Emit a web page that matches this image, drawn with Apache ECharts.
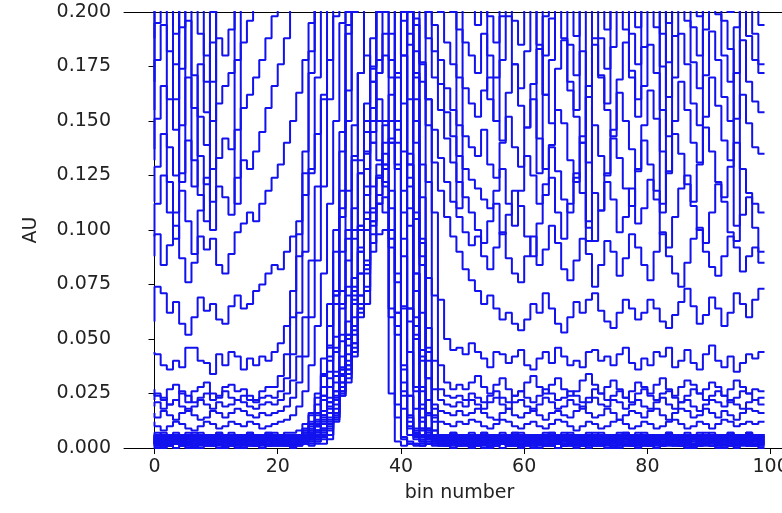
<!DOCTYPE html>
<html>
<head>
<meta charset="utf-8">
<script src="https://cdn.jsdelivr.net/npm/echarts@6/dist/echarts.min.js"></script>
<style>
html,body{margin:0;padding:0;background:#fff;}
#chart{width:782px;height:513px;}
</style>
</head>
<body>
<div id="chart"></div>
<script>
// Bin numbers (x categories)
const bins = [...Array(100).keys()];
// Tick labels
const xTickValues = [0, 20, 40, 60, 80, 100];
const yTickLabels = ['0.000','0.025','0.050','0.075','0.100','0.125','0.150','0.175','0.200'];
// Series values, in units of 0.001 AU
const band1 = [1,2,1,1,2,1,0,1,2,1,1,2,1,1,0,1,2,1,1,2,1,1,2,1, 1,2,1,2,2,4,12,24,30,42,60,66,90,98,100,25,3,1,2,1,1,2,1,1, 1,2,1,1,0,1,2,1,1,2,1,1,1,2,1,0,1,1,2,1,1,2,1,1,1,2,1,0,1,2,1,1,2,1,1,1,2,1,1,0,1,2,1,1,2,1,1,1,2,1,1,1];
const band2 = [2,3,2,2,3,2,2,1,2,3,2,2,3,2,3,2,2,1,2,3,2,2,3,2, 2,3,3,4,6,9,16,28,38,52,70,82,104,112,115,60,14,4,3,2,2,3,2,2, 2,3,2,2,3,2,2,3,1,2,3,2,2,2,3,2,3,2,2,1,2,3,2,2,3,2,2,3,2,2,1,2,3,2,3,2,2,2,3,2,2,1,2,3,2,2,3,2,2,3,2,2];
const band3 = [3,2,3,3,2,3,4,3,2,3,3,2,3,4,3,2,3,3,2,3,4,3,3,2, 3,4,6,8,12,18,26,37,52,70,92,105,120,125,122,96,52,18,6,4,3,2,3,2, 3,2,3,3,4,3,2,3,3,2,3,4,3,2,3,3,2,3,4,3,3,2,3,2,3,4,3,3,2,3,3,2,3,4,3,2,3,3,2,3,4,3,2,3,3,2,3,4,3,3,2,3];
const band4 = [3,4,3,3,4,3,2,3,4,3,3,4,3,3,2,3,4,4,3,3,4,3,3,4, 3,3,4,5,7,10,15,28,36,48,66,84,108,130,135,110,62,24,9,5,3,4,3,3, 3,3,4,3,2,3,4,3,3,4,3,3,4,3,2,3,4,3,3,4,3,3,4,3,3,2,4,3,3,4,3,3,4,3,3,2,3,4,3,3,4,3,3,4,2,3,3,4,3,3,4,3];
const band5 = [4,3,4,4,3,4,5,4,3,4,4,3,4,5,4,3,4,4,3,4,5,4,3,4, 4,4,5,6,8,11,16,26,36,48,64,80,102,124,140,140,128,96,58,28,12,6,4,3, 4,3,4,4,5,4,3,4,4,3,4,5,4,4,3,4,4,5,3,4,4,3,4,5,4,4,3,4,4,5,4,3,4,4,3,4,5,4,4,3,4,4,5,4,3,4,4,3,4,5,4,4];
const band6 = [4,5,4,4,5,4,3,4,5,4,4,5,4,4,3,4,5,4,4,5,4,4,5,4, 5,7,10,15,22,32,46,64,86,110,132,145,140,132,120,92,56,26,10,6,4,5,4,4, 4,5,4,4,3,4,5,4,4,5,4,4,5,4,3,4,4,5,4,4,5,4,4,3,4,5,4,4,5,4,4,5,4,3,4,4,5,4,4,5,4,4,3,5,4,4,5,4,4,5,4,4];
const band7 = [5,4,5,5,4,5,6,5,4,5,5,4,5,6,5,4,5,5,4,5,6,5,5,4, 5,6,8,11,15,21,30,42,58,78,102,128,150,160,150,118,76,38,15,7,5,4,5,4, 5,4,5,5,6,5,4,5,5,4,5,6,5,5,4,5,5,6,4,5,5,4,5,6,5,5,4,5,5,6,5,4,5,5,4,5,6,5,5,4,5,5,6,5,4,5,5,4,5,6,5,5];
const band8 = [5,6,5,5,6,5,4,5,6,5,5,6,5,5,4,5,6,5,5,6,5,5,6,5, 5,5,6,7,9,12,18,30,40,54,70,86,104,124,148,162,170,158,124,80,40,16,8,5, 5,6,5,5,4,5,6,5,5,6,5,5,6,5,4,5,5,6,5,5,6,5,5,4,5,6,5,5,6,5,5,6,5,4,5,5,6,5,5,6,5,5,4,6,5,5,6,5,5,6,5,5];
const band9 = [1,0,1,1,0,1,2,1,0,1,1,0,1,2,1,0,1,1,0,1,2,1,1,0, 2,2,3,5,8,13,20,30,43,60,80,100,110,112,108,64,20,5,2,2,1,2,2,1, 1,0,1,1,2,1,0,1,1,0,1,2,1,1,0,1,1,2,0,1,1,0,1,2,1,1,0,1,1,2,1,0,1,1,0,1,2,1,1,0,1,1,2,1,0,1,1,0,1,2,1,1];
const band10 = [6,5,6,6,5,6,7,6,5,6,6,5,6,7,6,5,6,6,5,6,7,6,6,5, 6,7,8,10,14,19,26,36,50,68,90,116,145,172,190,178,140,88,44,18,9,6,5,6, 6,5,6,6,7,6,5,6,6,5,6,7,6,6,5,6,6,7,5,6,6,5,6,7,6,6,5,6,6,7,6,5,6,6,5,6,7,6,6,5,6,6,7,6,5,6,6,5,6,7,6,6];
const band11 = [6,7,6,6,7,6,5,6,7,6,6,7,6,6,5,6,7,6,6,7,6,6,7,7, 8,11,16,23,33,47,66,90,118,148,172,180,168,150,130,100,62,30,12,7,6,7,6,6, 6,7,6,6,5,6,7,6,6,7,6,6,7,6,5,6,6,7,6,6,7,6,6,5,6,7,6,6,7,6,6,7,6,5,6,6,7,6,6,7,6,6,5,7,6,6,7,6,6,7,6,6];
const band12 = [3,2,3,3,2,3,3,4,3,2,3,3,4,3,2,3,3,2,3,4,3,3,2,3, 3,3,4,3,4,6,14,26,34,46,64,74,98,116,128,142,150,136,102,60,26,9,5,4, 3,3,2,3,4,3,3,2,3,3,4,3,2,3,3,3,4,3,2,3,3,4,3,3,2,3,3,4,3,2,3,3,3,4,3,2,3,3,4,3,2,3,3,4,3,3,2,3,3,4,3,3];
const band13 = [2,1,2,2,3,2,1,2,2,3,2,2,1,2,3,2,2,1,2,2,3,2,1,2, 2,3,4,6,9,14,22,34,50,72,100,135,175,210,220,190,130,65,24,8,3,2,3,2, 2,2,3,2,1,2,2,3,2,2,1,2,3,2,2,2,1,2,3,2,2,1,2,2,3,2,2,1,2,3,2,2,2,1,2,3,2,2,1,2,3,2,2,1,2,2,3,2,2,1,2,2];
const band14 = [5,4,5,6,5,4,5,5,6,5,4,5,6,5,5,4,5,6,5,5,4,5,6,5, 6,8,11,16,24,35,51,72,100,134,172,210,240,235,200,140,80,36,14,7,5,6,5,5, 5,5,4,5,6,5,5,4,5,6,5,5,4,5,6,5,5,5,4,6,5,5,4,5,6,5,5,4,5,6,5,5,5,4,6,5,5,4,5,6,5,5,4,5,5,6,5,4,5,6,5,5];
const band15 = [4,3,4,4,5,4,3,4,4,5,4,4,3,4,5,4,4,3,4,4,5,4,3,4, 4,5,6,8,11,16,23,33,47,66,90,120,156,200,240,260,236,180,110,52,20,8,5,4, 4,4,5,4,3,4,4,5,4,4,3,4,5,4,4,4,3,4,5,4,4,3,4,4,5,4,4,3,4,5,4,4,4,3,4,5,4,4,3,4,5,4,4,3,4,4,5,4,4,3,4,4];
const band16 = [3,4,3,4,3,3,4,3,4,3,3,4,3,3,4,3,4,3,3,4,3,4,3,4, 4,3,4,4,5,6,13,25,32,44,62,72,94,112,130,150,172,196,200,170,115,55,18,6, 4,3,4,3,3,4,3,4,3,3,4,3,3,4,4,3,4,3,3,4,3,4,3,3,4,3,4,3,3,4,3,3,4,3,4,3,3,4,3,3,4,3,4,3,3,4,3,4,3,3,4,3];
const band17 = [2,3,2,1,2,3,2,2,3,2,1,2,2,3,2,2,1,3,2,2,3,2,2,1, 3,5,9,16,28,46,72,106,150,200,255,310,355,390,400,385,340,270,185,105,45,15,5,3, 2,3,2,2,1,2,3,2,2,3,2,1,2,2,3,2,2,3,2,1,2,2,3,2,2,1,3,2,2,3,2,2,1,2,3,2,2,2,3,1,2,3,2,2,1,2,3,2,2,2,3,2];
const band18 = [3,3,4,3,2,3,3,4,3,3,2,4,3,3,4,3,2,3,3,4,3,3,2,3, 3,4,6,10,17,28,44,66,96,132,172,214,254,284,300,290,255,200,135,72,28,9,4,3, 3,4,3,2,3,3,4,3,3,2,3,4,3,3,3,2,4,3,3,4,3,2,3,3,4,3,3,3,2,4,3,3,4,3,2,3,3,4,3,3,2,3,4,3,3,3,2,4,3,3,4,3];
const band19 = [4,5,4,3,4,4,5,4,4,3,5,4,4,4,5,3,4,4,5,4,4,3,4,5, 4,5,7,12,22,40,70,118,190,280,380,480,560,600,580,500,380,250,130,50,14,5,4,4, 4,4,3,5,4,4,5,4,3,4,4,5,4,4,3,4,5,4,4,4,3,5,4,4,5,4,3,4,4,5,4,4,3,4,5,4,4,4,3,5,4,4,5,4,3,4,4,5,4,4,3,4];
const band20 = [1,1,0,1,2,1,1,0,1,1,2,1,0,1,1,1,2,1,0,1,1,2,1,1, 1,2,2,3,5,8,14,24,38,56,80,108,140,172,204,232,250,244,210,150,84,32,8,2, 1,0,1,2,1,1,1,0,1,2,1,1,0,1,1,2,1,1,0,1,2,1,1,0,1,1,2,1,0,1,1,1,2,1,0,1,1,2,1,1,0,1,2,1,1,0,1,1,2,1,1,0];
const band21 = [5,6,5,5,4,6,5,5,6,5,4,5,6,5,5,6,4,5,5,6,5,4,6,5, 6,9,15,25,41,66,100,145,200,256,306,340,350,330,280,205,128,64,24,9,6,5,5,6, 5,6,5,4,5,5,6,5,5,4,6,5,5,6,5,4,5,5,6,5,4,5,6,5,5,5,4,6,5,5,6,5,4,5,5,6,5,5,4,6,5,5,6,5,4,5,5,6,5,5,4,5];
const band22 = [3,2,3,4,3,3,2,3,3,4,3,2,3,3,4,3,3,2,3,4,3,3,2,3, 3,4,5,8,13,21,33,49,70,96,126,158,188,210,220,208,172,118,64,26,8,4,3,3, 3,3,4,3,2,3,3,4,3,3,2,3,4,3,3,3,2,4,3,3,3,4,3,2,3,3,4,3,3,2,3,4,3,3,3,2,4,3,3,3,4,3,2,3,3,4,3,3,2,3,4,3];
const band23 = [2,2,1,2,3,2,2,1,2,2,3,2,2,1,2,3,2,2,2,1,2,3,2,2, 2,4,7,13,24,42,70,110,164,230,305,380,445,490,500,480,430,355,265,172,94,40,12,3, 2,1,2,3,2,2,2,1,3,2,2,2,1,2,3,2,2,1,2,2,3,2,2,1,2,2,3,2,2,1,2,3,2,2,2,1,2,3,2,2,1,2,2,3,2,2,1,2,3,2,2,2];
const band24 = [5,5,6,5,4,5,6,5,5,5,4,6,5,5,6,5,4,5,5,6,5,5,4,5, 5,5,6,8,11,16,24,36,52,74,102,136,174,212,246,272,280,262,220,160,96,44,14,6, 5,6,5,5,4,5,6,5,5,5,4,6,5,5,6,5,4,5,5,6,5,5,4,5,6,5,5,5,4,6,5,5,6,4,5,5,6,5,5,4,5,6,5,5,5,4,6,5,5,6,5,5];
const band25 = [4,4,3,4,5,4,4,3,4,4,5,4,3,4,4,5,4,4,3,4,5,4,4,3, 4,5,7,10,15,23,35,52,74,100,126,150,168,178,180,170,146,108,64,28,9,5,4,4, 4,4,5,4,3,4,4,5,4,4,3,4,5,4,4,4,3,5,4,4,4,3,4,5,4,4,3,4,4,5,4,4,3,4,5,4,4,4,3,5,4,4,3,4,5,4,4,3,4,4,5,4];
const band26 = [6,6,7,6,5,6,6,7,6,6,5,7,6,6,6,5,7,6,6,7,6,5,6,6, 6,8,12,20,34,56,90,136,194,260,325,380,415,420,400,350,280,200,120,56,18,8,6,6, 6,7,6,5,6,6,7,6,6,5,6,7,6,6,6,5,7,6,6,7,6,5,6,6,7,6,6,6,5,7,6,6,7,5,6,6,7,6,6,5,6,7,6,6,6,5,7,6,6,7,6,6];
const low1 = [12,10,8,10,12,11,9,8,10,12,11,9,10,12,11,10,12,11,9,10, 11,12,13,15,19,26,38,56,80,112,150,195,240,280,310,320,315,300,280,255, 220,180,130,80,42,22,15,12,11,10,12,11,13,12,10,9,11,13,12,10, 9,11,12,10,9,11,13,12,10,8,10,12,11,9,10,12,13,11,9,10, 12,11,9,10,12,13,11,9,10,12,11,9,11,13,12,10,11,12,11,12];
const low2 = [16,14,17,15,13,16,18,15,13,14,17,16,14,16,18,17,15,14,16,15, 16,17,19,23,30,42,60,86,120,160,205,250,290,320,335,340,335,320,300,275, 245,205,160,108,62,32,20,17,16,15,17,15,16,18,16,14,13,16,18,15, 14,16,18,15,13,16,17,15,14,17,19,16,14,15,18,16,13,15,17,16, 14,17,18,15,13,16,18,17,14,15,18,16,14,17,15,13,16,18,17,16];
const low3 = [19,21,18,20,22,19,17,19,22,20,18,21,19,20,22,21,19,18,20,21, 20,22,25,31,42,60,86,120,162,208,255,300,335,355,365,368,360,345,325,300, 270,232,190,140,88,46,27,22,20,19,21,19,22,20,18,21,23,20,18,21, 22,19,17,20,23,21,18,19,22,20,18,21,23,20,19,22,21,18,20,22, 19,18,21,23,20,18,21,22,19,17,20,22,21,19,22,20,18,21,22,20];
const low4 = [22,25,23,20,22,26,24,21,23,25,22,24,26,23,22,24,22,21,23,24, 23,26,32,43,62,90,126,170,218,268,310,345,368,380,386,388,382,368,350,325, 298,265,228,182,130,78,40,27,24,23,24,22,25,23,21,24,26,23,21,24, 26,23,21,24,27,25,22,23,26,24,21,23,27,25,22,24,26,23,21,25, 27,24,22,25,26,23,21,24,27,25,22,24,26,24,21,23,26,25,22,23];
const low5 = [27,24,22,27,29,25,21,26,28,30,25,23,28,29,26,27,24,22,26,28, 28,33,43,60,88,126,172,222,272,318,352,378,394,402,406,408,402,390,372,350, 325,296,262,222,176,122,70,38,30,27,29,27,30,33,28,25,29,32,27,24, 26,30,33,28,25,29,32,27,24,26,31,34,29,25,28,31,27,23,26,30, 28,25,29,32,27,24,28,31,29,25,27,30,28,24,27,31,28,25,27,26];
const mid1 = [44,43,38,36,40,37,46,46,40,39,34,43,38,44,42,36,41,38,42,40, 44,48,56,72,98,136,182,232,282,326,362,390,408,418,422,424,418,406,390,368, 345,318,288,252,210,160,108,68,50,45,46,43,48,44,41,37,44,43,39,42, 45,38,36,41,44,39,46,42,38,40,37,44,45,40,42,38,43,46,39,36, 41,38,44,42,46,37,40,45,39,36,43,47,40,37,42,35,39,43,41,44];
const high1 = [58,74,71,62,67,57,52,60,69,63,66,59,57,65,70,64,66,72,75,80, 84,82,90,97,104,116,128,144,160,178,198,222,250,290,330,370,395,400,382,346, 305,262,224,194,168,148,131,118,106,97,90,82,77,72,66,70,64,59,62,57, 54,59,66,62,71,64,57,53,60,67,62,68,71,63,58,55,62,68,64,59, 62,68,64,58,55,61,67,73,65,57,61,69,64,56,62,71,66,60,68,73];
const high2 = [88,98,84,93,102,87,76,85,97,91,96,84,80,89,99,103,108,104,112,118, 124,130,140,150,163,178,195,215,238,264,292,322,355,385,410,420,405,380,350,316, 282,250,222,197,177,160,146,133,122,113,106,99,93,97,88,82,92,99,87,80, 76,88,97,84,91,102,94,82,77,86,96,89,74,84,95,90,79,87,98,92, 84,77,90,99,88,80,74,85,96,101,90,83,79,88,97,92,81,88,92,85];
const high3 = [97,112,125,108,96,118,104,89,109,124,113,120,115,107,124,132,128,136,145,156, 166,176,188,202,218,236,256,278,302,328,355,385,415,440,455,460,445,420,390,355, 322,290,260,232,208,188,170,155,142,131,122,115,108,100,94,104,112,98,107,118, 111,97,88,103,116,124,108,96,112,126,117,101,95,109,122,114,99,106,119,103, 110,123,114,98,92,106,119,125,111,100,94,108,121,113,99,95,107,115,101,90];
const high4 = [113,129,144,122,108,126,141,132,116,104,128,133,142,137,146,156,162,170,178,188, 198,210,224,240,258,278,300,324,350,378,405,430,455,470,480,480,465,440,405,368, 334,302,272,245,221,200,182,167,154,143,134,128,123,119,114,110,118,128,112,102, 118,134,125,112,121,138,127,114,108,124,140,131,117,109,126,142,133,119,111,128, 141,130,118,112,127,144,135,121,113,130,147,136,122,115,129,140,128,117,112,108];
const high5 = [132,151,166,138,125,148,170,156,134,121,150,158,166,172,178,186,196,206,216,228, 240,254,270,288,308,330,354,380,405,430,455,475,490,495,495,490,480,455,420,382, 346,312,282,256,232,212,194,178,165,155,148,143,138,134,146,130,124,140,152,138, 129,147,160,142,128,139,155,149,132,122,143,161,148,134,125,146,163,150,137,127, 148,164,151,136,126,150,168,155,140,131,152,170,157,141,132,151,162,149,138,135];
const high6 = [155,178,194,160,146,174,196,171,152,139,168,188,180,192,204,216,226,238,250,262, 276,292,310,330,350,372,395,420,445,470,495,515,530,540,540,535,520,495,462,426, 390,355,322,292,265,240,218,200,186,176,170,165,158,152,164,170,150,141,163,176, 157,147,167,183,162,149,174,187,164,152,140,166,185,171,155,143,169,186,170,152, 166,185,172,155,143,170,190,176,158,148,171,191,178,161,150,172,187,168,159,154];
const high7 = [168,195,216,182,160,193,218,120,176,154,186,209,222,234,246,258,272,286,300,316, 332,348,366,386,406,428,452,476,500,522,545,565,575,580,580,575,560,535,500,462, 424,388,354,322,294,268,246,228,212,200,192,186,180,172,190,160,150,178,198,176, 165,182,206,185,162,178,201,188,168,155,182,104,188,170,158,184,207,192,173,160, 184,208,193,175,161,189,213,196,177,165,192,214,199,180,168,193,208,189,178,172];
const high8 = [188,214,234,204,176,210,238,216,190,168,200,228,240,250,112,272,284,298,312,328, 344,362,380,400,422,446,470,496,520,545,570,590,605,615,620,615,600,575,540,500, 460,422,386,352,322,296,272,252,236,224,216,210,204,194,214,180,170,198,220,196, 185,203,228,205,180,197,221,206,185,171,201,226,208,188,174,205,229,211,190,176, 204,229,212,190,177,207,233,215,193,180,210,235,219,196,183,102,230,212,190,176];
const high9 = [137,232,252,220,190,224,256,234,204,180,100,246,262,272,284,296,310,324,340,356, 372,390,408,428,450,472,496,520,545,570,595,615,630,640,640,635,620,595,560,520, 482,444,408,374,344,318,294,274,258,246,238,232,226,214,236,198,186,218,242,216, 204,224,248,126,198,217,243,227,204,189,221,95,229,207,192,226,251,232,209,193, 224,251,233,209,195,228,255,236,212,198,230,258,240,215,200,228,250,231,208,194];
const high10 = [250,272,294,250,212,122,298,270,236,206,242,286,300,312,324,338,352,368,384,400, 418,436,456,476,498,520,545,570,595,620,645,665,680,690,700,695,680,655,620,580, 540,500,462,428,396,368,342,320,302,288,110,272,262,248,270,228,214,250,276,246, 232,258,284,252,226,246,274,256,232,214,250,280,258,234,218,254,286,264,238,222, 256,288,266,108,222,260,292,268,242,226,262,294,272,246,230,260,288,266,240,222];

const allSeries = [band1,band2,band3,band4,band5,band6,band7,band8,band9,band10,band11,band12,band13,
  band14,band15,band16,band17,band18,band19,band20,band21,band22,band23,band24,band25,band26,
  low1,low2,low3,low4,low5,mid1,high1,high2,high3,high4,high5,high6,high7,high8,high9,high10];

const chart = echarts.init(document.getElementById('chart'), null, {renderer:'canvas'});
const txt = {color:'#222', fontFamily:'DejaVu Sans', fontSize:19};
const X_MIN = -4.95, X_MAX = 103.95;
chart.setOption({
  animation:false,
  backgroundColor:'#fff',
  grid:{left:124, top:12, width:671, height:436, containLabel:false, outerBoundsMode:'none'},
  xAxis:[{
    type:'value', min:X_MIN, max:X_MAX,
    name:'bin number', nameLocation:'middle', nameGap:36,
    nameTextStyle:Object.assign({}, txt),
    axisLine:{show:true, onZero:false, lineStyle:{color:'#000', width:1}},
    axisTick:{show:true, length:6, customValues:xTickValues, lineStyle:{color:'#000'}},
    axisLabel:Object.assign({customValues:xTickValues, margin:10}, txt),
    splitLine:{show:false}
  },{
    type:'value', position:'top', min:X_MIN, max:X_MAX,
    axisLine:{show:true, onZero:false, lineStyle:{color:'#000', width:1}},
    axisTick:{show:false}, axisLabel:{show:false}, splitLine:{show:false}
  }],
  yAxis:{
    type:'value', min:0, max:200, interval:25,
    name:'AU', nameLocation:'middle', nameGap:83,
    nameTextStyle:Object.assign({}, txt),
    axisLine:{show:true, lineStyle:{color:'#000', width:1}},
    axisTick:{show:true, length:6, lineStyle:{color:'#000'}},
    axisLabel:Object.assign({margin:13, formatter:(v)=>yTickLabels[Math.round(v/25)]}, txt),
    splitLine:{show:false}
  },
  series: allSeries.map(arr => ({
    type:'line', step:'start', symbol:'none', showSymbol:false, silent:true, clip:true,
    xAxisIndex:0,
    data: arr.map((v,i)=>[bins[i], v]),
    lineStyle:{color:'#1212ee', width:2}
  }))
});
</script>
</body>
</html>
